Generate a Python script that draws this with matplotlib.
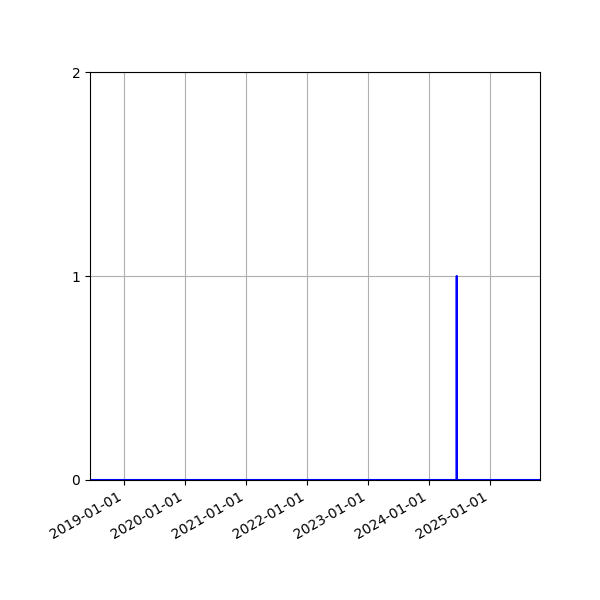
import matplotlib
matplotlib.use('Agg')
import matplotlib.pyplot as plt
import matplotlib.dates as mdates
import numpy as np

# daily counts, zero everywhere except one day
dates = ['2018-06-14', '2024-06-15', '2024-06-16', '2024-06-17', '2025-10-27']
counts = [0, 0, 1, 0, 0]
y_ticks = [0, 1, 2]

x = np.array(dates, dtype='datetime64[D]')

fig, ax = plt.subplots(figsize=(6, 6), dpi=100)
ax.plot(x, counts, color='blue')

ax.set_xlim(x[0], x[-1])
ax.set_ylim(0, 2)
ax.set_yticks(y_ticks)
ax.xaxis.set_major_locator(mdates.YearLocator())
ax.xaxis.set_major_formatter(mdates.DateFormatter('%Y-%m-%d'))
ax.grid(True)

fig.autofmt_xdate()
fig.subplots_adjust(left=0.15, right=0.9, top=0.88, bottom=0.2)
fig.savefig('out.png')
